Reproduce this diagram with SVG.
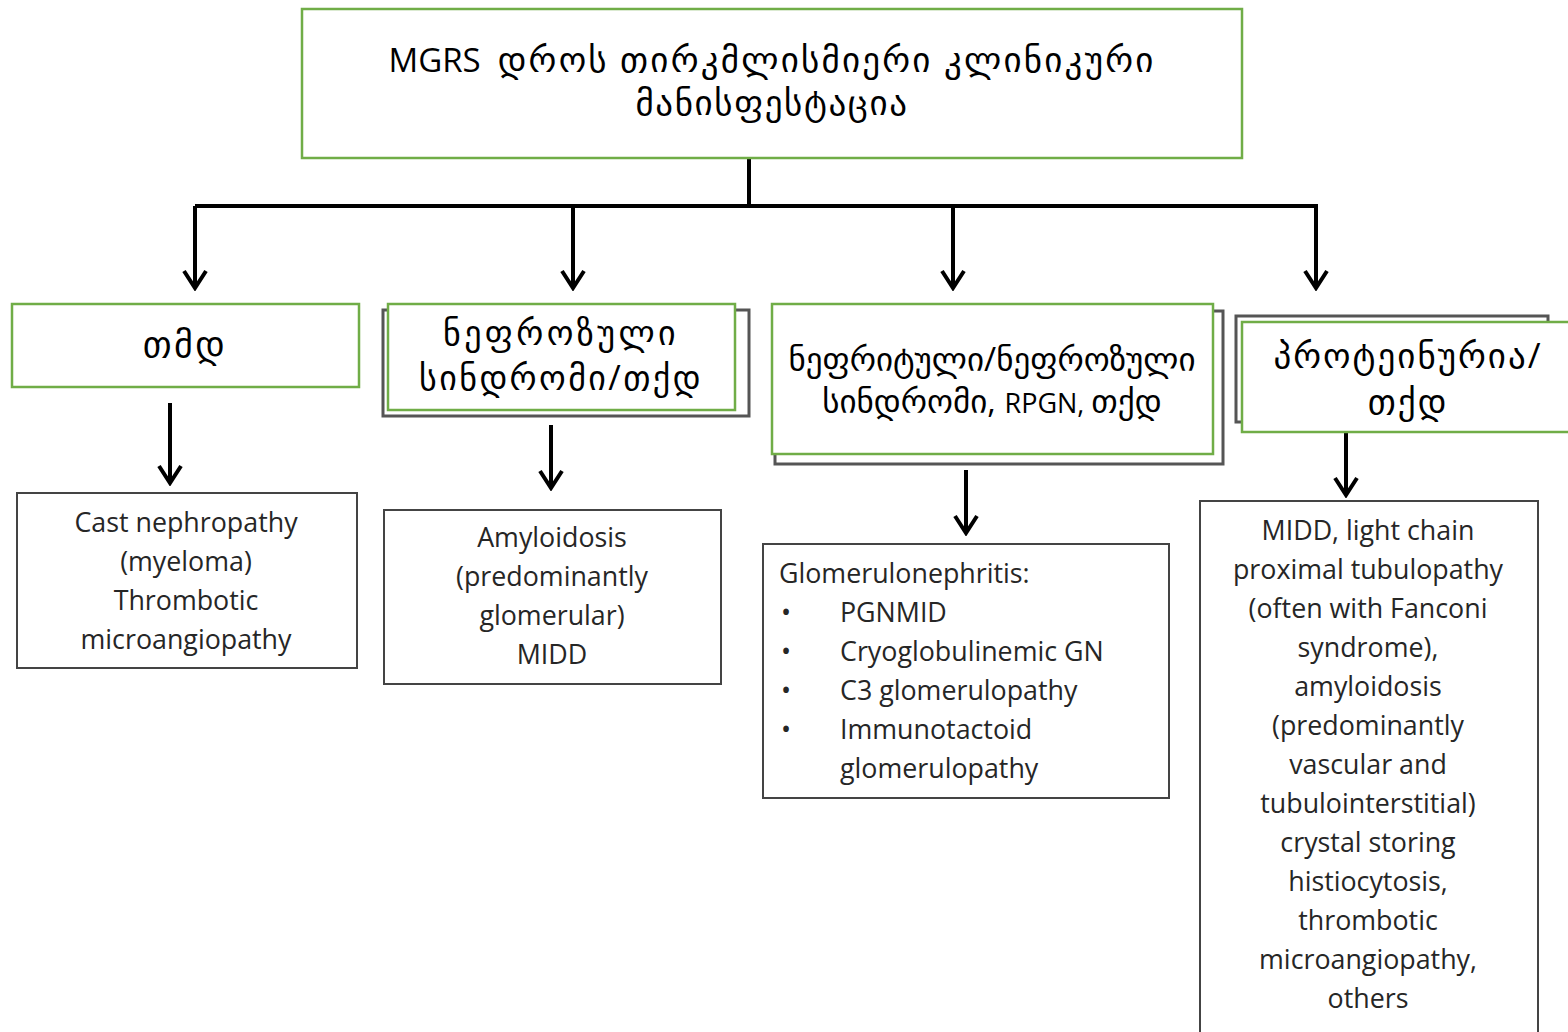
<svg xmlns="http://www.w3.org/2000/svg" width="1568" height="1032" viewBox="0 0 1568 1032">
<defs>
<style>
.g{fill:#fff;stroke:#70AD47;stroke-width:2.5}
.s{fill:#fff;stroke:#555;stroke-width:3}
.b{fill:#fff;stroke:#444;stroke-width:2}
.ka{font-family:"Open Sans","DejaVu Sans",sans-serif;fill:#000;text-anchor:middle}
.lat{letter-spacing:0}
.en{font-family:"Open Sans","Liberation Sans",sans-serif;font-size:26.8px;fill:#262626;text-anchor:middle}
.l{text-anchor:start}
.c{fill:none;stroke:#000;stroke-width:4}
</style>
<marker id="ah" viewBox="0 0 22 26" markerWidth="22" markerHeight="26" refX="19" refY="13" markerUnits="userSpaceOnUse" orient="auto">
<path d="M2,2 L19,13 L2,24" fill="none" stroke="#000" stroke-width="4"/>
</marker>
</defs>
<g id="connectors">
<path class="c" d="M749,158 V206"/>
<path class="c" d="M195,206 H1318"/>
<path class="c" d="M195,206 V288" marker-end="url(#ah)"/>
<path class="c" d="M573,206 V288" marker-end="url(#ah)"/>
<path class="c" d="M953,206 V288" marker-end="url(#ah)"/>
<path class="c" d="M1316,206 V288" marker-end="url(#ah)"/>
<path class="c" d="M170,403 V483" marker-end="url(#ah)"/>
<path class="c" d="M551,425 V488" marker-end="url(#ah)"/>
<path class="c" d="M966,470 V533" marker-end="url(#ah)"/>
<path class="c" d="M1346,433 V495" marker-end="url(#ah)"/>
</g>
<g id="top">
<rect class="g" x="302" y="9" width="940" height="149"/>
<text class="ka" x="772" y="72" font-size="35" letter-spacing="2.2"><tspan class="lat" font-size="33">MGRS&#160; </tspan>დროს თირკმლისმიერი კლინიკური</text>
<text class="ka" x="772" y="115" font-size="35" letter-spacing="1.6">მანისფესტაცია</text>
</g>
<g id="n1">
<rect class="g" x="12" y="304" width="347" height="83"/>
<text class="ka" x="185" y="357" font-size="36" letter-spacing="2.5">თმდ</text>
</g>
<g id="n2">
<rect class="s" x="383" y="310" width="366" height="106"/>
<rect class="g" x="388" y="304" width="347" height="106"/>
<text class="ka" x="561" y="345" font-size="34" letter-spacing="3.4">ნეფროზული</text>
<text class="ka" x="561" y="390" font-size="34" letter-spacing="2.4">სინდრომი/თქდ</text>
</g>
<g id="n3">
<rect class="s" x="775" y="311" width="448" height="153"/>
<rect class="g" x="772" y="304" width="441" height="150"/>
<text class="ka" x="992" y="371" font-size="33">ნეფრიტული/ნეფროზული</text>
<text class="ka" x="992" y="413" font-size="33">სინდრომი, <tspan class="lat" font-size="27">RPGN, </tspan>თქდ</text>
</g>
<g id="n4">
<rect class="s" x="1236" y="316" width="312" height="106"/>
<rect class="g" x="1242" y="322" width="330" height="110"/>
<text class="ka" x="1408" y="368" font-size="35" letter-spacing="2">პროტეინურია/</text>
<text class="ka" x="1408" y="414" font-size="35" letter-spacing="2">თქდ</text>
</g>
<g id="b1">
<rect class="b" x="17" y="493" width="340" height="175"/>
<text class="en" x="186" y="532">Cast nephropathy</text>
<text class="en" x="186" y="571">(myeloma)</text>
<text class="en" x="186" y="610">Thrombotic</text>
<text class="en" x="186" y="649">microangiopathy</text>
</g>
<g id="b2">
<rect class="b" x="384" y="510" width="337" height="174"/>
<text class="en" x="552" y="547">Amyloidosis</text>
<text class="en" x="552" y="586">(predominantly</text>
<text class="en" x="552" y="625">glomerular)</text>
<text class="en" x="552" y="664">MIDD</text>
</g>
<g id="b3">
<rect class="b" x="763" y="544" width="406" height="254"/>
<text class="en l" x="779" y="583">Glomerulonephritis:</text>
<text class="en l" x="781" y="622">•</text>
<text class="en l" x="840" y="622">PGNMID</text>
<text class="en l" x="781" y="661">•</text>
<text class="en l" x="840" y="661">Cryoglobulinemic GN</text>
<text class="en l" x="781" y="700">•</text>
<text class="en l" x="840" y="700">C3 glomerulopathy</text>
<text class="en l" x="781" y="739">•</text>
<text class="en l" x="840" y="739">Immunotactoid</text>
<text class="en l" x="840" y="778">glomerulopathy</text>
</g>
<g id="b4">
<rect class="b" x="1200" y="501" width="338" height="540"/>
<text class="en" x="1368" y="540">MIDD, light chain</text>
<text class="en" x="1368" y="579">proximal tubulopathy</text>
<text class="en" x="1368" y="618">(often with Fanconi</text>
<text class="en" x="1368" y="657">syndrome),</text>
<text class="en" x="1368" y="696">amyloidosis</text>
<text class="en" x="1368" y="735">(predominantly</text>
<text class="en" x="1368" y="774">vascular and</text>
<text class="en" x="1368" y="813">tubulointerstitial)</text>
<text class="en" x="1368" y="852">crystal storing</text>
<text class="en" x="1368" y="891">histiocytosis,</text>
<text class="en" x="1368" y="930">thrombotic</text>
<text class="en" x="1368" y="969">microangiopathy,</text>
<text class="en" x="1368" y="1008">others</text>
</g>
</svg>
